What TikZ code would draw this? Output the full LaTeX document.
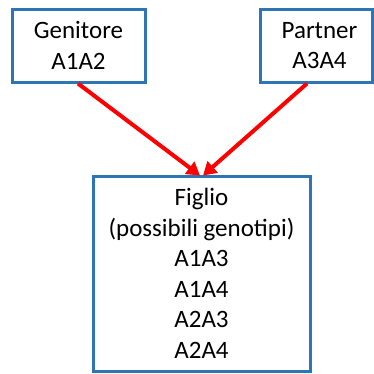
\documentclass[tikz,border=0pt]{standalone}
\usepackage{fontspec}
\setmainfont{Carlito}
\usetikzlibrary{arrows.meta}
\definecolor{boxblue}{HTML}{2E75B6}
\definecolor{arrred}{HTML}{FF0000}
\begin{document}
\begin{tikzpicture}[x=1pt,y=1pt,
  box/.style={draw=boxblue, line width=3pt, fill=white, align=center,
    font=\fontsize{25}{30.5}\selectfont, inner sep=0pt},
  link/.style={draw=arrred, line width=4pt, -{Triangle[length=13pt,width=15pt]}}]
\useasboundingbox (0,0) rectangle (374,-373);
\node[box, minimum width=133pt, minimum height=73pt] (gen) at (78.5,-45.5) {Genitore\\A1A2};
\node[box, minimum width=112pt, minimum height=73pt] (par) at (316,-45.5) {\hspace*{7pt}Partner\\\hspace*{7pt}A3A4};
\node[box, minimum width=217pt, minimum height=195pt] (fig) at (201.5,-273.5) {Figlio\\(possibili genotipi)\\A1A3\\A1A4\\A2A3\\A2A4};
\draw[link] ([xshift=-0.5pt]gen.south) -- ([xshift=-1.5pt,yshift=-1pt]fig.north);
\draw[link] ([xshift=-9pt]par.south) -- ([xshift=1.5pt,yshift=-1pt]fig.north);
\end{tikzpicture}
\end{document}
